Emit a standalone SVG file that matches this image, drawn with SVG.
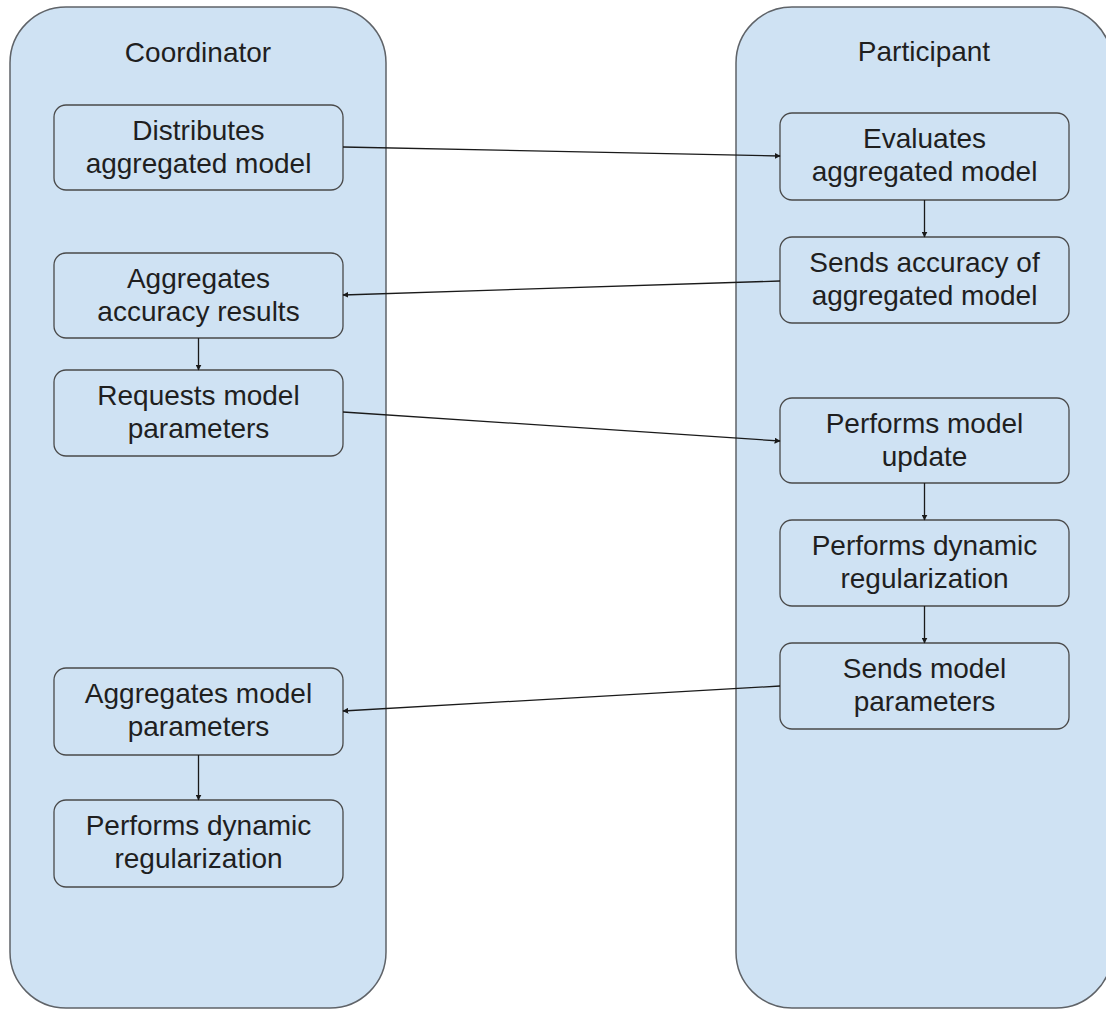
<svg xmlns="http://www.w3.org/2000/svg" width="1106" height="1009" viewBox="0 0 1106 1009">
<style>
.lane{fill:#cfe2f3;stroke:#5f6368;stroke-width:1.5}
.node{fill:#cfe2f3;stroke:#4a4a4a;stroke-width:1.3}
.t{font-family:"Liberation Sans",Arial,sans-serif;font-size:28px;fill:#1f1f1f;text-anchor:middle}
.c{stroke:#1a1a1a;stroke-width:1.3;fill:none;marker-end:url(#ah)}
</style>
<defs>
<marker id="ah" viewBox="0 0 10 10" refX="9" refY="5" markerWidth="6" markerHeight="6" markerUnits="userSpaceOnUse" orient="auto">
<path d="M0,0 L10,5 L0,10 z" fill="#1a1a1a"/>
</marker>
</defs>
<rect width="1106" height="1009" fill="#ffffff"/>
<g id="lane-coordinator">
<rect class="lane" x="10" y="7" width="376" height="1001" rx="56" ry="56"/>
<text class="t" x="198" y="62">Coordinator</text>
</g>
<g id="lane-participant">
<rect class="lane" x="736" y="7" width="376" height="1001" rx="56" ry="56"/>
<text class="t" x="924" y="61">Participant</text>
</g>
<g id="c1">
<rect class="node" x="54" y="105" width="289" height="85" rx="12"/>
<text class="t" x="198.5" y="140">Distributes</text>
<text class="t" x="198.5" y="173">aggregated model</text>
</g>
<g id="c2">
<rect class="node" x="54" y="253" width="289" height="85" rx="12"/>
<text class="t" x="198.5" y="288">Aggregates</text>
<text class="t" x="198.5" y="321">accuracy results</text>
</g>
<g id="c3">
<rect class="node" x="54" y="370" width="289" height="86" rx="12"/>
<text class="t" x="198.5" y="405">Requests model</text>
<text class="t" x="198.5" y="438">parameters</text>
</g>
<g id="c4">
<rect class="node" x="54" y="668" width="289" height="87" rx="12"/>
<text class="t" x="198.5" y="703">Aggregates model</text>
<text class="t" x="198.5" y="736">parameters</text>
</g>
<g id="c5">
<rect class="node" x="54" y="800" width="289" height="87" rx="12"/>
<text class="t" x="198.5" y="835">Performs dynamic</text>
<text class="t" x="198.5" y="868">regularization</text>
</g>
<g id="p1">
<rect class="node" x="780" y="113" width="289" height="87" rx="12"/>
<text class="t" x="924.5" y="148">Evaluates</text>
<text class="t" x="924.5" y="181">aggregated model</text>
</g>
<g id="p2">
<rect class="node" x="780" y="237" width="289" height="86" rx="12"/>
<text class="t" x="924.5" y="272">Sends accuracy of</text>
<text class="t" x="924.5" y="305">aggregated model</text>
</g>
<g id="p3">
<rect class="node" x="780" y="398" width="289" height="85" rx="12"/>
<text class="t" x="924.5" y="433">Performs model</text>
<text class="t" x="924.5" y="466">update</text>
</g>
<g id="p4">
<rect class="node" x="780" y="520" width="289" height="86" rx="12"/>
<text class="t" x="924.5" y="555">Performs dynamic</text>
<text class="t" x="924.5" y="588">regularization</text>
</g>
<g id="p5">
<rect class="node" x="780" y="643" width="289" height="86" rx="12"/>
<text class="t" x="924.5" y="678">Sends model</text>
<text class="t" x="924.5" y="711">parameters</text>
</g>
<g id="connectors">
<line class="c" x1="343" y1="147" x2="780" y2="156"/>
<line class="c" x1="780" y1="281" x2="343" y2="295"/>
<line class="c" x1="343" y1="412" x2="780" y2="441"/>
<line class="c" x1="780" y1="686" x2="343" y2="711"/>
<line class="c" x1="198.5" y1="338" x2="198.5" y2="370"/>
<line class="c" x1="198.5" y1="755" x2="198.5" y2="800"/>
<line class="c" x1="924.5" y1="200" x2="924.5" y2="237"/>
<line class="c" x1="924.5" y1="483" x2="924.5" y2="520"/>
<line class="c" x1="924.5" y1="606" x2="924.5" y2="643"/>
</g>
</svg>
